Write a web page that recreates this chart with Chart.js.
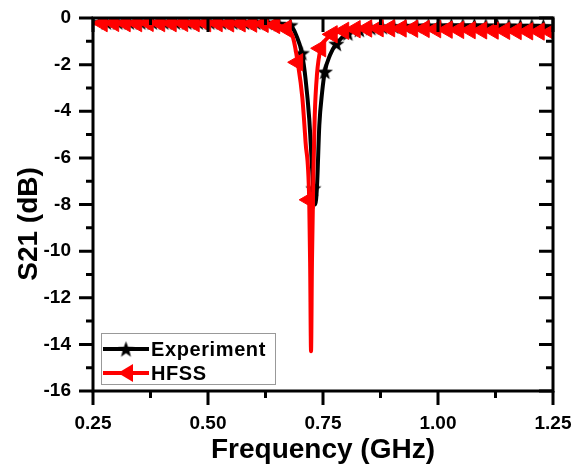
<!DOCTYPE html>
<html>
<head>
<meta charset="utf-8">
<script src="https://cdn.jsdelivr.net/npm/chart.js@4.4.1/dist/chart.umd.min.js"></script>
<style>
  html, body { margin: 0; padding: 0; background: #fff; }
  #wrap { width: 575px; height: 466px; position: relative; }
</style>
</head>
<body>
<div id="wrap"><canvas id="s21Chart"></canvas></div>
<script>
// HFSS simulation (GHz, dB)
const hfssFreq = [0.25, 0.27, 0.295, 0.32, 0.345, 0.37, 0.395, 0.42, 0.445, 0.47, 0.495, 0.52,
  0.545, 0.57, 0.595, 0.62, 0.645, 0.67, 0.685, 0.695, 0.705, 0.712, 0.72, 0.722, 0.724, 0.726,
  0.729, 0.732, 0.737, 0.745, 0.755, 0.77, 0.795, 0.82, 0.845, 0.87, 0.895, 0.92, 0.945, 0.97,
  0.995, 1.02, 1.045, 1.07, 1.095, 1.12, 1.145, 1.17, 1.195, 1.22, 1.245, 1.25];
const hfssS21 = [-0.22, -0.22, -0.21, -0.22, -0.22, -0.21, -0.22, -0.22, -0.21, -0.22, -0.22, -0.22,
  -0.23, -0.23, -0.24, -0.25, -0.3, -0.45, -0.85, -1.9, -3.4, -5.3, -7.8, -10.5, -14.3, -10.5,
  -6.8, -4.2, -2.4, -1.3, -0.95, -0.7, -0.55, -0.48, -0.45, -0.44, -0.44, -0.45, -0.46, -0.47,
  -0.48, -0.5, -0.51, -0.52, -0.53, -0.54, -0.55, -0.56, -0.57, -0.58, -0.6, -0.6];

// Measured data (GHz, dB)
const expFreq = [0.25, 0.279, 0.304, 0.329, 0.354, 0.379, 0.404, 0.429, 0.454, 0.479, 0.504, 0.529,
  0.554, 0.579, 0.604, 0.629, 0.654, 0.679, 0.692, 0.704, 0.712, 0.72, 0.729, 0.733, 0.737, 0.742,
  0.748, 0.754, 0.765, 0.779, 0.804, 0.829, 0.854, 0.879, 0.904, 0.929, 0.954, 0.979, 1.004, 1.029,
  1.054, 1.079, 1.104, 1.129, 1.154, 1.179, 1.204, 1.229, 1.25];
const expS21 = [-0.18, -0.18, -0.18, -0.18, -0.18, -0.18, -0.18, -0.18, -0.18, -0.18, -0.18, -0.18,
  -0.18, -0.19, -0.19, -0.2, -0.25, -0.3, -0.75, -1.5, -2.6, -4.3, -7.3, -8.0, -7.2, -4.6,
  -3.2, -2.3, -1.6, -1.1, -0.65, -0.5, -0.42, -0.38, -0.36, -0.35, -0.34, -0.33, -0.33, -0.32,
  -0.32, -0.32, -0.33, -0.33, -0.33, -0.34, -0.34, -0.35, -0.35];

const xTickLabels = ["0.25", "0.50", "0.75", "1.00", "1.25"];
const yTickLabels = ["0", "-2", "-4", "-6", "-8", "-10", "-12", "-14", "-16"];

const FONT = "'Liberation Sans', Arial, sans-serif";

// marker every 0.025 GHz starting from the series' first marked point
function markerAt(f, start) {
  const k = (f - start) / 0.025;
  return k > -0.01 && Math.abs(k - Math.round(k)) < 0.02;
}

function makeStar(size) {
  const c = document.createElement("canvas");
  c.width = size; c.height = size;
  const g = c.getContext("2d");
  const cx = size / 2, cy = size / 2 + 0.8, ro = size / 2, ri = ro * 0.42;
  g.beginPath();
  for (let i = 0; i < 10; i++) {
    const r = i % 2 ? ri : ro;
    const a = -Math.PI / 2 + i * Math.PI / 5;
    g.lineTo(cx + r * Math.cos(a), cy + r * Math.sin(a));
  }
  g.closePath();
  g.fillStyle = "#000";
  g.fill();
  return c;
}
const starImg = makeStar(17);

const framePlugin = {
  id: "frame",
  afterDatasetsDraw(chart) {
    const { ctx, chartArea: { left, right, top, bottom }, scales: { x, y } } = chart;
    ctx.save();
    ctx.strokeStyle = "#000";
    ctx.lineWidth = 3;
    ctx.beginPath();
    x.ticks.forEach(t => {
      const px = x.getPixelForValue(t.value);
      const major = Math.abs(t.value / 0.25 - Math.round(t.value / 0.25)) < 1e-6;
      const len = major ? 14 : 7;
      ctx.moveTo(px, bottom); ctx.lineTo(px, bottom + len);
      ctx.moveTo(px, top); ctx.lineTo(px, top + len);
    });
    y.ticks.forEach(t => {
      const py = y.getPixelForValue(t.value);
      const len = t.value % 2 === 0 ? 14 : 7;
      ctx.moveTo(left, py); ctx.lineTo(left - len, py);
      ctx.moveTo(right, py); ctx.lineTo(right - len, py);
    });
    ctx.stroke();
    ctx.strokeRect(left, top, right - left, bottom - top);

    // axis titles
    ctx.fillStyle = "#000";
    ctx.font = "bold 28px " + FONT;
    ctx.textAlign = "center";
    ctx.textBaseline = "alphabetic";
    ctx.fillText("Frequency (GHz)", (left + right) / 2, 458);
    ctx.save();
    ctx.translate(37, 224);
    ctx.rotate(-Math.PI / 2);
    ctx.fillText("S21 (dB)", 0, 0);
    ctx.restore();

    // legend
    const bx = left + 8, by = bottom - 58, bw = 174, bh = 51;
    ctx.fillStyle = "#fff";
    ctx.fillRect(bx, by, bw, bh);
    ctx.lineWidth = 1;
    ctx.strokeStyle = "#999";
    ctx.strokeRect(bx + 0.5, by + 0.5, bw, bh);
    const rows = [
      { label: "Experiment", color: "#000", cy: by + 16 },
      { label: "HFSS", color: "#ff0000", cy: by + 40 }
    ];
    rows.forEach((r, i) => {
      ctx.strokeStyle = r.color;
      ctx.lineWidth = 4;
      ctx.beginPath();
      ctx.moveTo(bx + 2, r.cy); ctx.lineTo(bx + 48, r.cy);
      ctx.stroke();
      if (i === 0) {
        ctx.drawImage(starImg, bx + 25 - 8.5, r.cy - 8.5);
      } else {
        ctx.fillStyle = r.color;
        ctx.beginPath();
        ctx.moveTo(bx + 17, r.cy);
        ctx.lineTo(bx + 32, r.cy - 9);
        ctx.lineTo(bx + 32, r.cy + 9);
        ctx.closePath();
        ctx.fill();
      }
      ctx.fillStyle = "#000";
      ctx.font = "bold 20px " + FONT;
      ctx.letterSpacing = "0.6px";
      ctx.textAlign = "left";
      ctx.textBaseline = "middle";
      ctx.fillText(r.label, bx + 50, r.cy + 1);
      ctx.letterSpacing = "0px";
    });
    ctx.restore();
  }
};

new Chart(document.getElementById("s21Chart"), {
  type: "line",
  data: {
    datasets: [
      {
        label: "Experiment",
        data: expFreq.map((f, i) => ({ x: f, y: expS21[i] })),
        borderColor: "#000",
        borderWidth: 4,
        cubicInterpolationMode: "monotone",
        pointStyle: starImg,
        pointRadius: c => markerAt(expFreq[c.dataIndex], 0.279) ? 8 : 0,
        order: 1
      },
      {
        label: "HFSS",
        data: hfssFreq.map((f, i) => ({ x: f, y: hfssS21[i] })),
        borderColor: "#ff0000",
        backgroundColor: "#ff0000",
        borderWidth: 4,
        cubicInterpolationMode: "monotone",
        pointStyle: "triangle",
        rotation: -90,
        pointRadius: c => markerAt(hfssFreq[c.dataIndex], 0.27) ? 10 : 0,
        pointBorderColor: "#ff0000",
        pointBackgroundColor: "#ff0000",
        pointBorderWidth: 1,
        order: 0
      }
    ]
  },
  options: {
    responsive: true,
    maintainAspectRatio: false,
    animation: false,
    events: [],
    layout: { padding: { top: 18, right: 22, left: 0, bottom: 0 } },
    plugins: { legend: { display: false }, tooltip: { enabled: false } },
    scales: {
      x: {
        type: "linear",
        min: 0.25,
        max: 1.25,
        grid: { display: false, drawTicks: false },
        border: { display: false },
        afterFit: s => { s.height = 75; s.paddingLeft = 0; s.paddingRight = 0; },
        ticks: {
          stepSize: 0.125,
          padding: 21,
          color: "#000",
          font: { family: FONT, size: 19, weight: "bold" },
          maxRotation: 0,
          autoSkip: false,
          callback: v => {
            const k = Math.round(v / 0.25) - 1;
            return Math.abs(v / 0.25 - Math.round(v / 0.25)) < 1e-6 ? xTickLabels[k] : "";
          }
        }
      },
      y: {
        min: -16,
        max: 0,
        grid: { display: false, drawTicks: false },
        border: { display: false },
        afterFit: s => { s.width = 93; s.paddingTop = 0; s.paddingBottom = 0; },
        ticks: {
          stepSize: 1,
          padding: 22,
          color: "#000",
          font: { family: FONT, size: 19, weight: "bold" },
          autoSkip: false,
          callback: v => v % 2 === 0 ? yTickLabels[-v / 2] : ""
        }
      }
    }
  },
  plugins: [framePlugin]
});
</script>
</body>
</html>
